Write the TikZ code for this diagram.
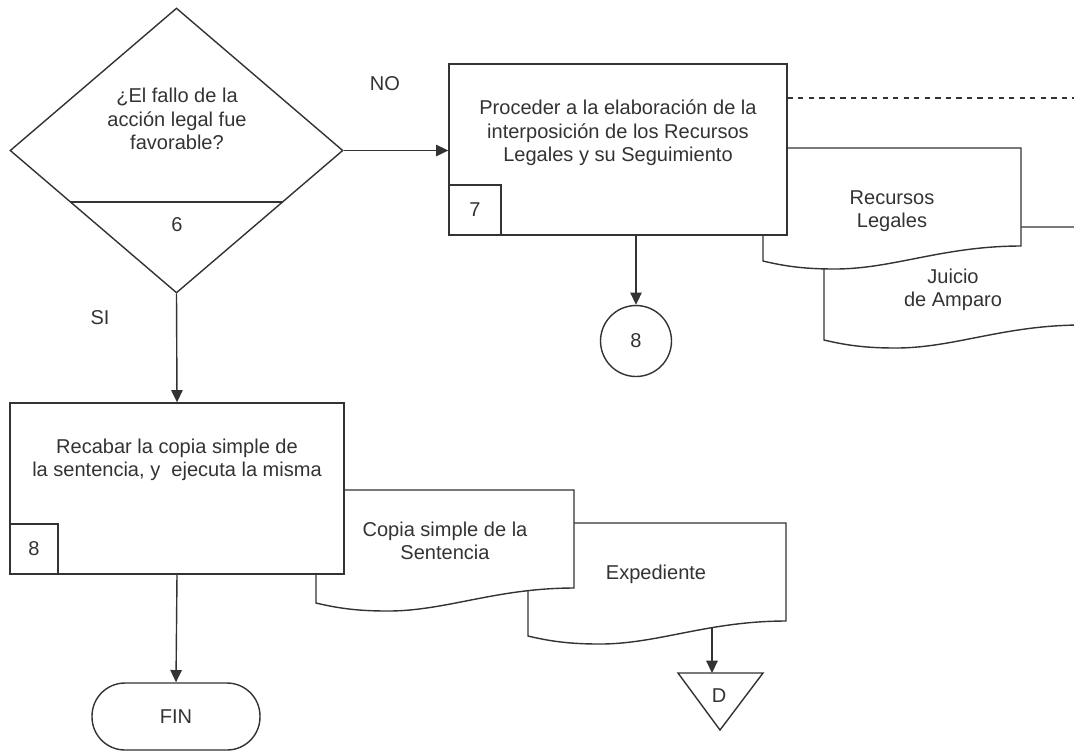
\documentclass[tikz,border=0pt]{standalone}
\usepackage{fontspec}
\setmainfont{Liberation Sans}
\usetikzlibrary{shapes.geometric, arrows.meta, calc}

\newcommand{\docu}[2]{%
  \filldraw [fill = white] (#1,#2) -- (#1+258,#2) -- (#1+258,#2+98)
    .. controls (#1+180,#2+98) and (#1+130,#2+121) .. (#1+72,#2+121)
    .. controls (#1+45,#2+121) and (#1+25,#2+119) .. (#1,#2+113) -- cycle;}

\begin{document}
\begin{tikzpicture}[x = 0.02cm, y = -0.02cm, line width = 0.8pt, color = black!80,
                    >={Triangle[length = 7pt, width = 6.5pt]},
                    txt/.style = {font = \fontsize{11.4}{13.4}\selectfont, align = center},
                    proc/.style = {rectangle, draw, fill = white, minimum width = 6.76cm, minimum height = 3.42cm},
                    num/.style = {rectangle, draw, txt, minimum height = 1cm, inner sep = 0pt, anchor = south west}]
      \useasboundingbox (0,0) rectangle (1074,752);
      \clip (0,0) rectangle (1074,752);

      \node [diamond, draw, minimum width = 6.66cm, minimum height = 5.7cm, inner sep = 0pt] (dec) at (176.5,150.5){};
      \node [txt] (q) at (177,119){¿El fallo de la\\acción legal fue\\favorable?};
      \draw ($(dec.west)!.361!(dec.south)$) -- ($(dec.east)!.361!(dec.south)$);
      \node [txt] (n6) at (177,225){6};
      \node [txt] (no) at (385,84){NO};
      \node [txt] (si) at (100,318){SI};

      \docu{824}{227}
      \node [txt] (jui) at (953,290){Juicio\\de Amparo};
      \docu{763}{148}
      \node [txt] (rec) at (892,211){Recursos\\Legales};
      \node [proc] (box7) at (618,149.5){};
      \node [txt] (t7) at (618,133){Proceder a la elaboración de la\\interposición de los Recursos\\Legales y su Seguimiento};
      \node [num, minimum width = 1.04cm] (n7) at (box7.south west){7};
      \coordinate (dashend) at (1074,98);
      \draw [dashed] (box7.east |- dashend) -- (dashend);
      \node [circle, draw, txt, minimum size = 1.42cm] (c8) at (636,341){8};

      \docu{528}{523}
      \node [txt] (exp) at (656,574){Expediente};
      \docu{316}{490}
      \node [txt] (cop) at (445,541){Copia simple de la\\Sentencia};
      \node [proc, minimum width = 6.68cm] (box8) at (177,488.5){};
      \node [txt] (t8) at (177,460){Recabar la copia simple de\\la sentencia, y \ ejecuta la misma};
      \node [num, minimum width = 0.96cm] (n8) at (box8.south west){8};
      \node [txt, draw, rounded corners = 0.66cm, minimum width = 3.36cm, minimum height = 1.34cm] (fin) at (176,716.5){FIN};
      \coordinate (expout) at (712,627);
      \coordinate (dtop) at (712,673);
      \draw (678,673) -- (763,673) -- (720,730) -- cycle;
      \node [txt] (d) at (719,696){D};

      \draw [->] (dec.east) -- (dec.east -| box7.west);
      \draw [->] (dec.south) -- (box8.north);
      \draw [->] (c8 |- box7.south) -- (c8.north);
      \draw [->] (box8.south) -- (fin.north);
      \draw [->] (expout) -- (dtop);
    \end{tikzpicture}
\end{document}
